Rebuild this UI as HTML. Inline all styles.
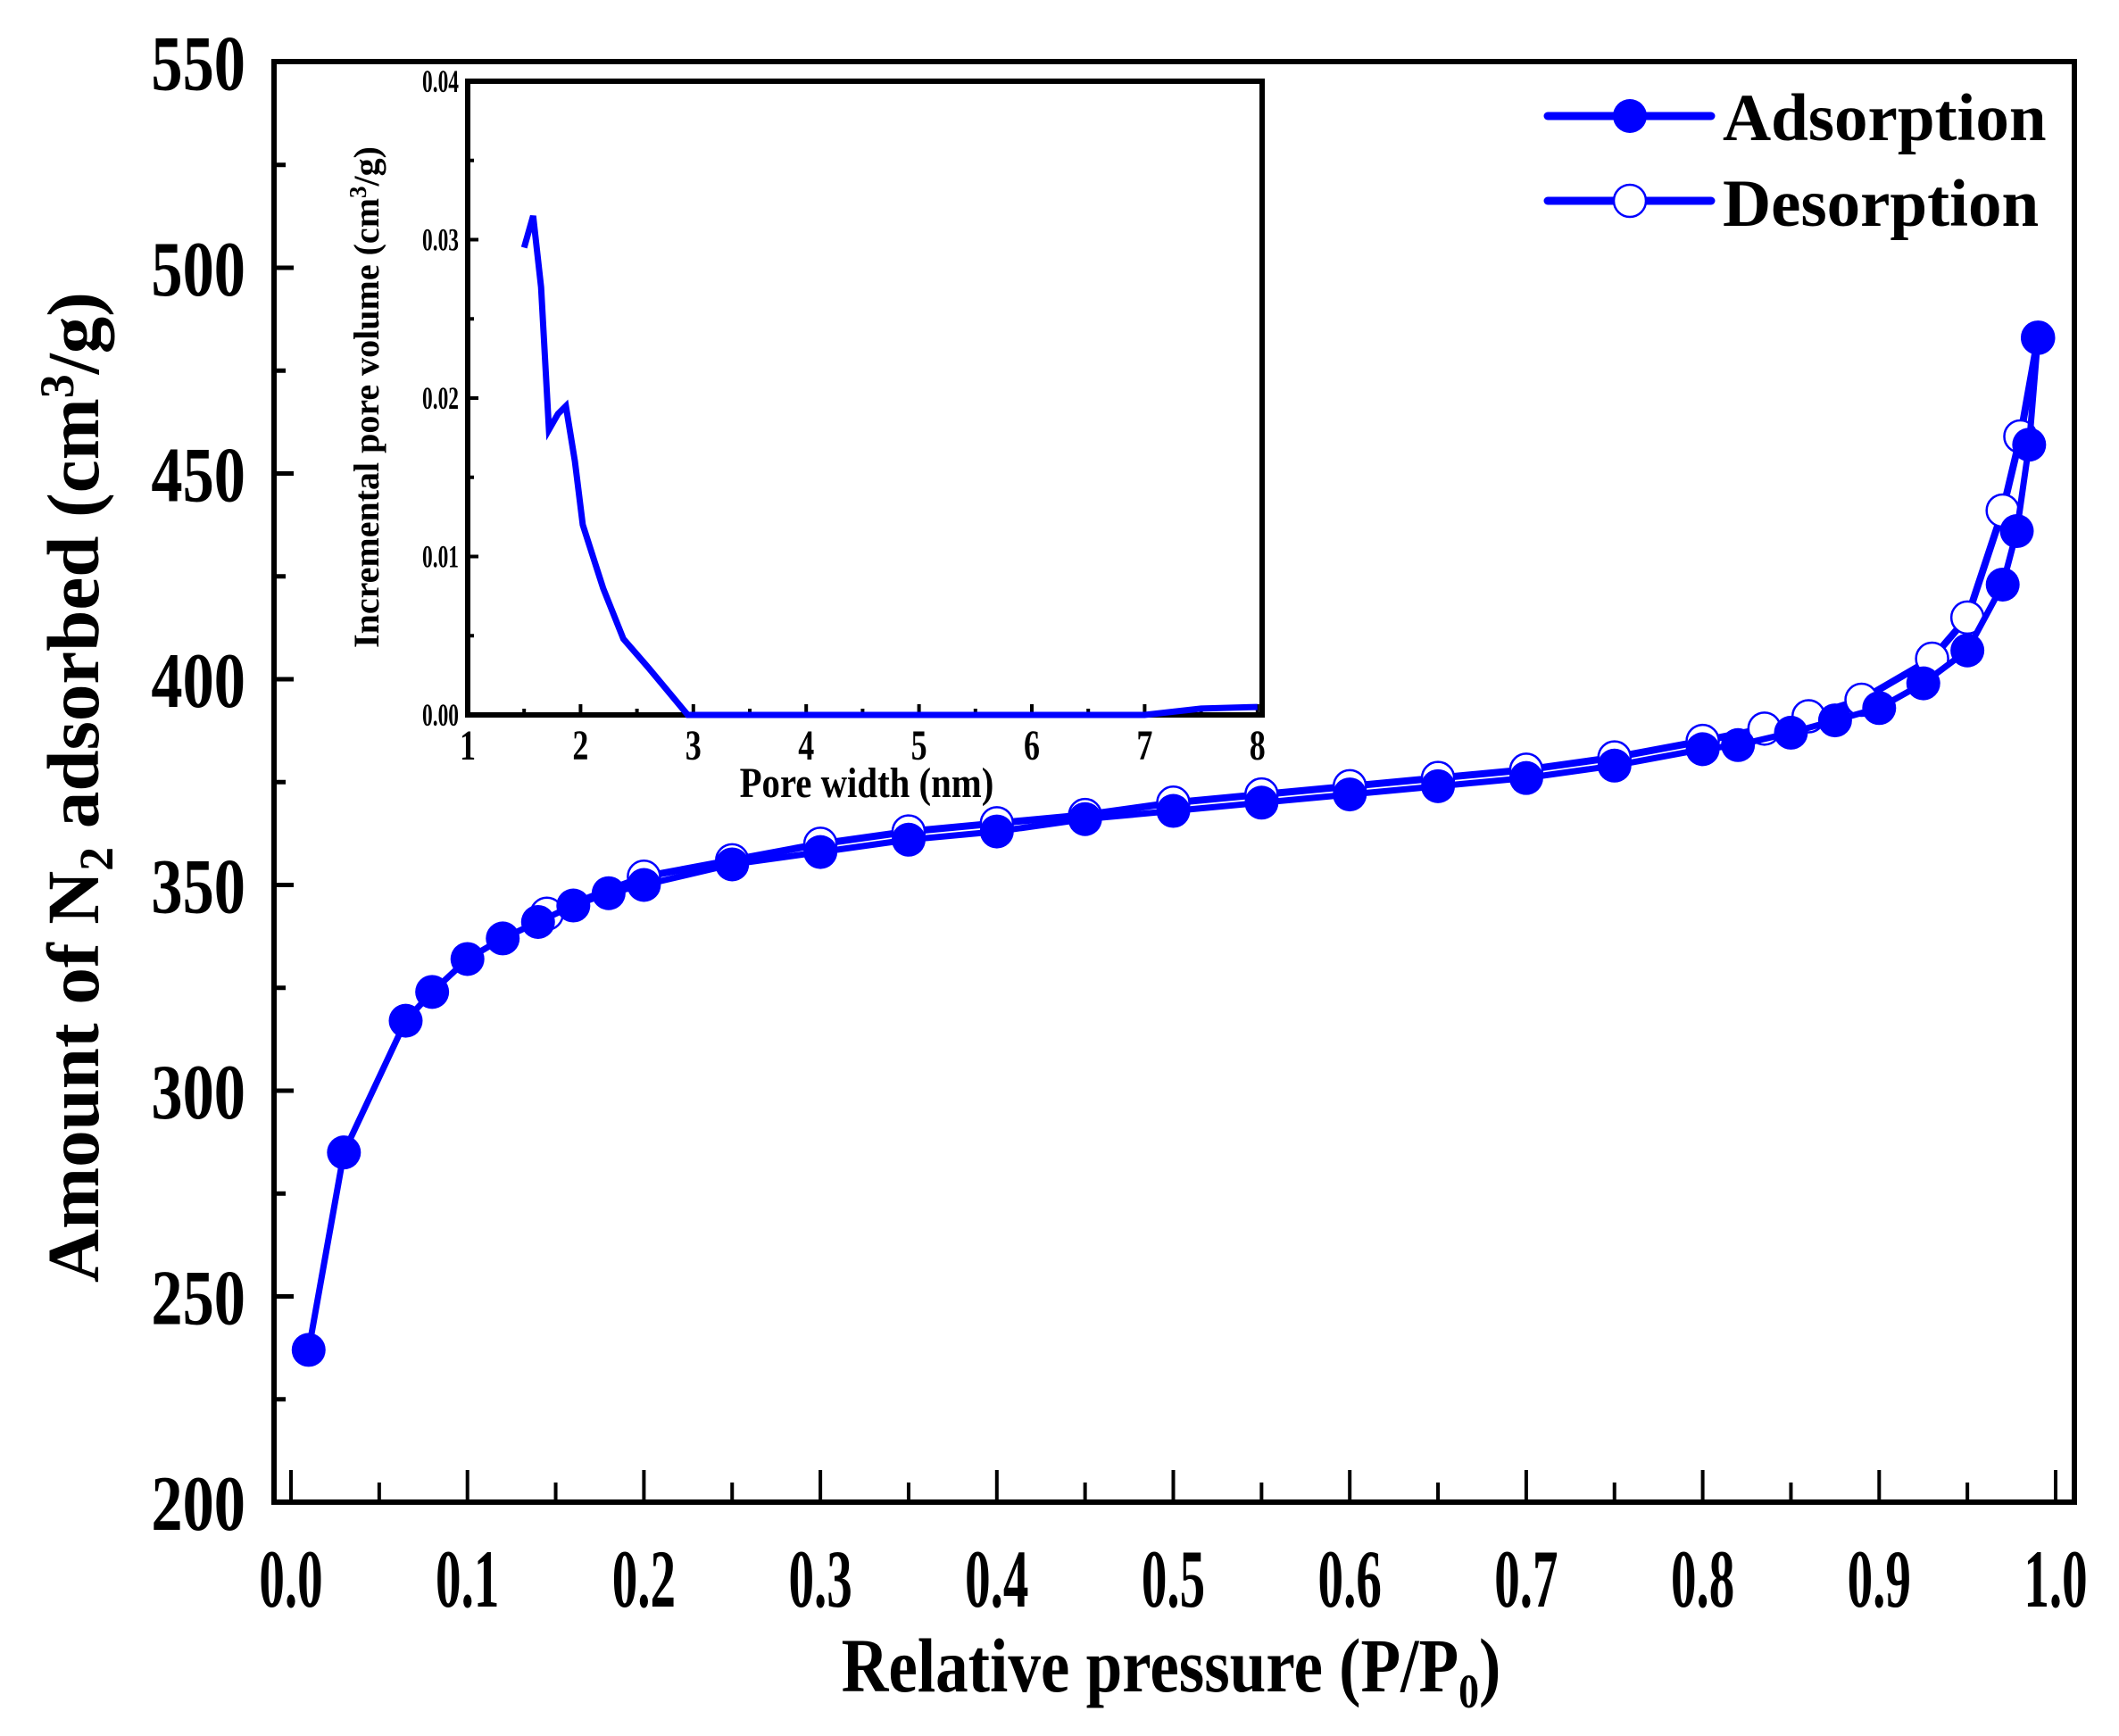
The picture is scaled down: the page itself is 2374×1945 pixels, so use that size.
<!DOCTYPE html>
<html><head><meta charset="utf-8"><style>
html,body{margin:0;padding:0;background:#fff;}
svg{display:block;font-family:"Liberation Serif",serif;font-weight:bold;}
</style></head><body>
<svg id="s" width="2374" height="1945" viewBox="0 0 2374 1945" xmlns="http://www.w3.org/2000/svg">
<rect width="2374" height="1945" fill="#fff"/>
<g id="g"></g>
<rect x="307" y="69" width="2017" height="1614" fill="none" stroke="#000" stroke-width="6"/>
<g id="lab"></g>
<text transform="translate(1312,1895) scale(0.85,1)" font-size="86" text-anchor="middle">Relative pressure (P/P<tspan font-size="54" dy="18">0</tspan><tspan dy="-18">)</tspan></text>
<text transform="translate(110,882) rotate(-90)" font-size="83" text-anchor="middle">Amount of N<tspan font-size="54" dy="16">2</tspan><tspan dy="-16"> adsorbed (cm</tspan><tspan font-size="54" dy="-28">3</tspan><tspan dy="28">/g)</tspan></text>
<line x1="1734" y1="130" x2="1917" y2="130" stroke="#0000ff" stroke-width="9" stroke-linecap="round"/>
<circle cx="1826" cy="130" r="19" fill="#0000ff"/>
<line x1="1734" y1="225" x2="1917" y2="225" stroke="#0000ff" stroke-width="9" stroke-linecap="round"/>
<circle cx="1826" cy="225" r="18" fill="#fff" stroke="#0000ff" stroke-width="2.5"/>
<text x="1930" y="157" font-size="75">Adsorption</text>
<text x="1930" y="253" font-size="75">Desorption</text>
<rect x="524" y="91" width="890" height="710" fill="#fff" stroke="#000" stroke-width="6"/>
<g id="ig"></g>
<text transform="translate(971,893) scale(0.85,1)" font-size="48" text-anchor="middle">Pore width (nm)</text>
<text transform="translate(424,445) rotate(-90)" font-size="40" text-anchor="middle">Incremental pore volume (cm<tspan font-size="27" dy="-14">3</tspan><tspan dy="14">/g)</tspan></text>
</svg>
<script>
var NS="http://www.w3.org/2000/svg";
function el(p,n,a){var e=document.createElementNS(NS,n);for(var k in a)e.setAttribute(k,a[k]);p.appendChild(e);return e;}
function txt(p,x,y,s,fs,sx,anc){var t=el(p,'text',{transform:'translate('+x+','+y+') scale('+sx+',1)','font-size':fs,'text-anchor':anc});t.textContent=s;}
var g=document.getElementById('g'), ig=document.getElementById('ig'), lab=document.getElementById('lab');
for(var v=200;v<=550;v+=50){txt(lab,275,1683-(v-200)*4.61+31,String(v),88,0.8,'end');}
for(var i=0;i<=10;i++){txt(lab,326+i*197.7,1800,(i/10).toFixed(1),92,0.62,'middle');}
for(var v=200;v<=550;v+=25){var y=1683-(v-200)*4.61;var L=(v%50==0)?22:13;el(g,'line',{x1:307,y1:y,x2:307+L,y2:y,stroke:'#000','stroke-width':5});}
for(var i=0;i<=20;i++){var x=326+i*98.85;var L=(i%2==0)?36:22;el(g,'line',{x1:x,y1:1683,x2:x,y2:1683-L,stroke:'#000','stroke-width':4});}
function X(p){return 326+p*1977;} function Y(v){return 1683-(v-200)*4.61;}
var ads=[[0.01,237],[0.03,285],[0.065,317],[0.08,324],[0.1,332],[0.12,337],[0.14,341],[0.16,345],[0.18,348],[0.2,350],[0.25,355],[0.3,358],[0.35,361],[0.4,363],[0.45,366],[0.5,368],[0.55,370],[0.6,372],[0.65,374],[0.7,376],[0.75,379],[0.8,383],[0.82,384],[0.85,387],[0.875,390],[0.9,393],[0.925,399],[0.95,407],[0.97,423],[0.978,436],[0.985,457],[0.99,483]];
var des=[[0.99,483],[0.98,459],[0.97,441],[0.95,415],[0.93,405],[0.89,395],[0.86,391],[0.835,388],[0.8,385],[0.75,381],[0.7,378],[0.65,376],[0.6,374],[0.55,372],[0.5,370],[0.45,367],[0.4,365],[0.35,363],[0.3,360],[0.25,356],[0.2,352],[0.145,343]];
function pts(a){return a.map(function(p){return X(p[0]).toFixed(1)+','+Y(p[1]).toFixed(1);}).join(' ');}
el(g,'polyline',{points:pts(des),fill:'none',stroke:'#0000ff','stroke-width':8});
des.forEach(function(p){el(g,'circle',{cx:X(p[0]),cy:Y(p[1]),r:18,fill:'#fff',stroke:'#0000ff','stroke-width':2.5});});
el(g,'polyline',{points:pts(ads),fill:'none',stroke:'#0000ff','stroke-width':7});
ads.forEach(function(p){el(g,'circle',{cx:X(p[0]),cy:Y(p[1]),r:19,fill:'#0000ff'});});
for(var k=0;k<=8;k++){var y=801-k*88.75;var L=(k%2==0)?12:7;el(ig,'line',{x1:524,y1:y,x2:524+L,y2:y,stroke:'#000','stroke-width':4});}
for(var k=0;k<=14;k++){var x=524+k*63.2;var L=(k%2==0)?12:7;el(ig,'line',{x1:x,y1:801,x2:x,y2:801-L,stroke:'#000','stroke-width':4});}
for(var k=0;k<=4;k++){txt(ig,514,801-k*177.5+12,(k/100).toFixed(2),36,0.65,'end');}
for(var k=1;k<=8;k++){txt(ig,524+(k-1)*126.4,851,String(k),48,0.75,'middle');}
function IX(n){return 524+(n-1)*126.4;} function IY(v){return 801-v/0.04*710;}
var pd=[[1.5,0.0295],[1.58,0.0315],[1.65,0.027],[1.72,0.018],[1.8,0.019],[1.87,0.0195],[1.95,0.016],[2.02,0.012],[2.2,0.008],[2.38,0.0048],[2.6,0.003],[2.95,0],[7.0,0],[7.5,0.0004],[8,0.0005]];
el(ig,'polyline',{points:pd.map(function(p){return IX(p[0]).toFixed(1)+','+IY(p[1]).toFixed(1);}).join(' '),fill:'none',stroke:'#0000ff','stroke-width':7});
</script>
</body></html>
